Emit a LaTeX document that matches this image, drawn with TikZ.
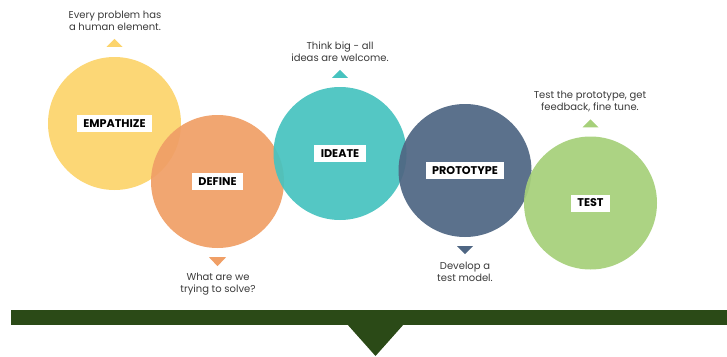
\documentclass[tikz,border=0pt]{standalone}
\usepackage{fontspec}
\setmainfont{Poppins}
\usetikzlibrary{calc}
\definecolor{cYel}{HTML}{FCD46C}
\definecolor{cOra}{HTML}{F09F66}
\definecolor{cTea}{HTML}{47C3BF}
\definecolor{cSla}{HTML}{4F6683}
\definecolor{cGre}{HTML}{A6D07A}
\definecolor{cBar}{HTML}{2B4A17}
\definecolor{cTxt}{HTML}{3A3A3A}
\tikzset{
  phase/.style={circle, minimum size=133pt, inner sep=0pt, fill opacity=0.93},
  tag/.style={fill=white, text=black, font=\fontsize{11.2}{12}\selectfont\bfseries, inner xsep=6.5pt, minimum height=17pt, inner ysep=0pt},
  note/.style={text=cTxt, align=center, font=\fontsize{10}{11.8}\selectfont, inner sep=0pt},
}
\begin{document}
\begin{tikzpicture}[x=1pt, y=-1pt]
\useasboundingbox (0,0) rectangle (727,356);
% circles
\node[phase, fill=cYel] (emp) at (114.5,123.5) {};
\node[phase, fill=cOra] (def) at (217.5,181.5) {};
\node[phase, fill=cTea] (ide) at (340,153.5) {};
\node[phase, fill=cSla] (pro) at (465,170.5) {};
\node[phase, fill=cGre] (tst) at (590.5,203) {};
% labels
\node[tag] (empL) at (emp.center) {EMPATHIZE};
\node[tag] (defL) at (def.center) {DEFINE};
\node[tag] (ideL) at (ide.center) {IDEATE};
\node[tag] (proL) at (pro.center) {PROTOTYPE};
\node[tag] (tstL) at (tst.center) {TEST};
% markers
\fill[cYel] ($(emp.north)+(-8,-10)$) -- ($(emp.north)+(8,-10)$) -- ($(emp.north)+(0,-18)$) -- cycle;
\fill[cTea] ($(ide.north)+(-8,-9)$) -- ($(ide.north)+(8,-9)$) -- ($(ide.north)+(0,-17)$) -- cycle;
\fill[cGre] ($(tst.north)+(-8,-9)$) -- ($(tst.north)+(8,-9)$) -- ($(tst.north)+(0,-17)$) -- cycle;
\fill[cOra] ($(def.south)+(-8.5,9)$) -- ($(def.south)+(8.5,9)$) -- ($(def.south)+(0,18)$) -- cycle;
\fill[cSla] ($(pro.south)+(-8,9)$) -- ($(pro.south)+(8,9)$) -- ($(pro.south)+(0,17)$) -- cycle;
% notes
\node[note] (empN) at (115,20.5) {Every problem has\\a human element.};
\node[note] (ideN) at (340,51.5) {Think big - all\\ideas are welcome.};
\node[note] (tstN) at (590,101.5) {Test the prototype, get\\feedback, fine tune.};
\node[note] (defN) at (218,284) {What are we\\trying to solve?};
\node[note] (proN) at (465,272) {Develop a\\test model.};
% bar
\fill[cBar] (11,310) rectangle (727,325);
\fill[cBar] (347,324) -- (404,324) -- (375.5,356) -- cycle;
\end{tikzpicture}
\end{document}
